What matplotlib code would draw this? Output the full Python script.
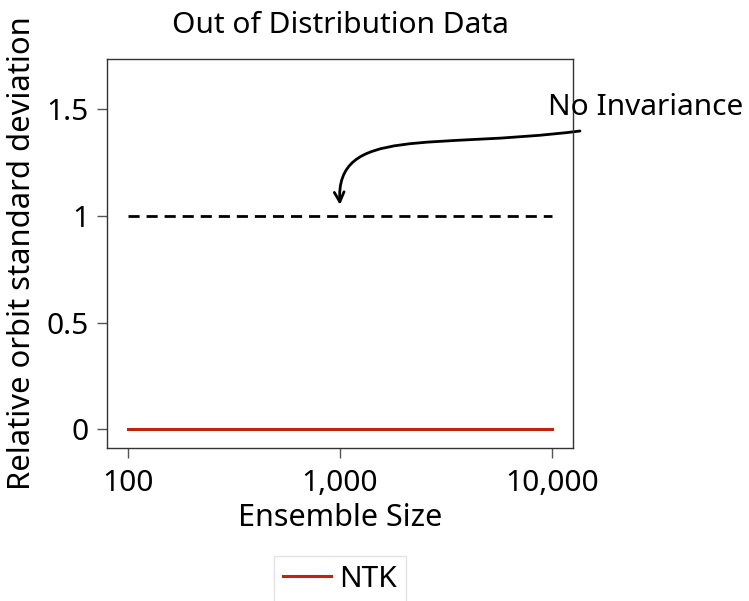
import matplotlib
matplotlib.use("Agg")
import matplotlib.pyplot as plt
from matplotlib.path import Path
from matplotlib.patches import FancyArrowPatch

plt.rcParams['font.family'] = ['Noto Sans', 'DejaVu Sans']

ensemble_sizes = [100, 10000]
ntk_values = [0.0, 0.0]
no_invariance = [1.0, 1.0]
xticks = [100, 1000, 10000]
xticklabels = ["100", "1,000", "10,000"]
yticks = [0, 0.5, 1, 1.5]
yticklabels = ["0", "0.5", "1", "1.5"]

fig = plt.figure(figsize=(7.49, 6.01), dpi=100)
ax = fig.add_axes([107/749, 1-448/601, (573-107)/749, (448-59)/601])

ax.plot(ensemble_sizes, ntk_values, color='#c0220f', lw=2.2, label='NTK')
ax.plot(ensemble_sizes, no_invariance, color='black', lw=2, ls=(0, (4, 2.5)))

ax.set_xscale('log')
ax.set_xlim(10**1.901, 10**4.099)
ax.set_ylim(-0.089, 1.737)
ax.set_xticks(xticks)
ax.set_xticklabels(xticklabels)
ax.minorticks_off()
ax.set_yticks(yticks)
ax.set_yticklabels(yticklabels)
ax.tick_params(labelsize=21.5, length=7, width=1, color='#555555', pad=8)
ax.tick_params(axis='y', pad=6)
for s in ax.spines.values():
    s.set_color('#333333')
    s.set_linewidth(1)

ax.set_title("Out of Distribution Data", fontsize=21.5, pad=19)
ax.set_xlabel("Ensemble Size", fontsize=22, labelpad=4)
ax.set_ylabel("Relative orbit standard deviation", fontsize=22.3, labelpad=7)

# annotation
ax.text(27700, 1.507, "No Invariance", fontsize=21.5, ha='center', va='center', clip_on=False)
verts = [(13550, 1.399), (2658, 1.310), (946, 1.427), (1000, 1.052)]
codes = [Path.MOVETO, Path.CURVE4, Path.CURVE4, Path.CURVE4]
arrow = FancyArrowPatch(path=Path(verts, codes), arrowstyle='->,head_length=7,head_width=3.5',
                        transform=ax.transData, color='black', lw=2, clip_on=False)
ax.add_patch(arrow)

leg = fig.legend(loc='upper center', bbox_to_anchor=(340/749, 1-541/601), fontsize=21.5,
                 frameon=True, fancybox=False, handlelength=1.6, handletextpad=0.3,
                 borderpad=0.3)
leg.get_frame().set_edgecolor('#dddddd')
leg.get_frame().set_linewidth(1)

fig.savefig('out.png', dpi=100)
